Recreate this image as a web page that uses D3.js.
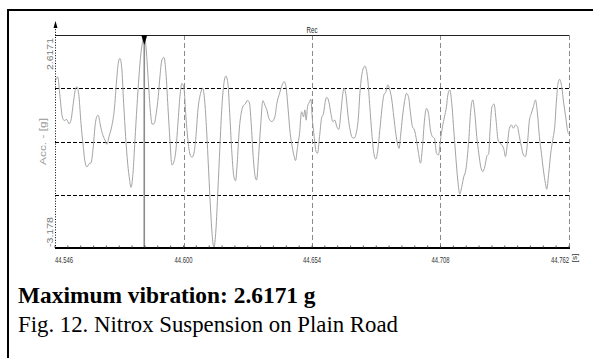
<!DOCTYPE html>
<html>
<head>
<meta charset="utf-8">
<script src="https://cdn.jsdelivr.net/npm/d3@7/dist/d3.min.js"></script>
<style>
  body { margin: 0; background: #fff; }
  svg { display: block; }
</style>
</head>
<body>
<svg id="draw-here"></svg>
<script>
// recording start (s) and sample times relative to it (ms)
const t0 = 44.546;
const timeMs = [
  0, 1.13, 2.10, 3.07, 3.91, 4.91, 5.88, 6.72, 7.69, 8.69, 9.24, 10.08, 10.92, 11.89, 12.60, 13.44, 14.28, 15.12, 16.09, 16.80,
  17.64, 18.19, 19.03, 19.87, 21.00, 21.84, 22.68, 23.81, 24.91, 25.91, 26.59, 27.30, 28.01, 28.85, 29.69, 30.53, 31.37, 31.92, 32.76, 33.60,
  34.44, 35.28, 36.12, 36.96, 37.51, 38.35, 39.19, 40.03, 40.87, 41.71, 42.55, 43.39, 43.97, 44.94, 45.78, 46.62, 47.46, 48.30, 49.14, 49.98,
  50.82, 51.66, 52.50, 53.34, 54.18, 55.02, 55.86, 56.70, 57.54, 58.38, 59.22, 60.06, 61.19, 62.03, 62.87, 63.71, 64.55, 65.39, 66.23, 66.78,
  67.62, 68.46, 69.30, 70.14, 70.98, 71.82, 72.66, 73.50, 74.34, 75.18, 75.89, 76.57, 77.41, 78.25, 79.09, 79.93, 80.77, 81.61, 82.45, 83.29,
  84.13, 84.71, 85.55, 86.39, 87.36, 88.20, 89.04, 89.88, 91.14, 92.40, 93.24, 94.37, 95.47, 96.31, 97.15, 97.99, 98.83, 99.67, 100.51, 101.09,
  101.93, 102.77, 103.61, 104.45, 105.00, 105.55, 106.13, 106.97, 107.52, 108.07, 108.91, 109.75, 110.33, 111.17, 112.01, 112.85, 113.69, 114.24, 115.08, 115.92,
  116.76, 117.60, 118.44, 119.28, 120.12, 120.96, 121.51, 122.35, 123.19, 124.03, 124.87, 125.71, 126.55, 127.39, 128.23, 129.07, 130.20, 131.46, 132.30, 133.14,
  133.98, 134.82, 135.66, 136.50, 137.34, 138.18, 139.02, 139.86, 140.70, 141.54, 142.38, 143.22, 144.06, 144.61, 145.19, 146.03, 146.87, 147.71, 148.55, 149.39,
  150.23, 151.07, 151.91, 152.75, 153.59, 154.43, 155.27, 156.11, 156.95, 157.79, 158.63, 159.47, 160.31, 161.15, 161.99, 162.83, 163.67, 164.51, 165.06, 165.90,
  166.74, 167.58, 168.42, 169.26, 170.10, 170.94, 171.78, 172.62, 173.88, 174.72, 175.56, 176.40, 177.24, 178.08, 178.92, 179.76, 180.60, 181.44, 182.28, 182.83,
  183.67, 184.51, 185.35, 186.19, 187.03, 187.87, 188.71, 189.29, 190.13, 190.97, 191.81, 192.65, 193.49, 194.33, 195.17, 196.01, 196.85, 197.69, 198.53, 199.37,
  200.21, 201.05, 201.89, 202.73, 203.57, 204.41, 205.25, 206.09, 206.64, 207.48, 208.32, 209.16, 210.00, 210.84, 211.39, 212.10, 212.94, 213.78, 214.62, 215.46,
  215.90
];
// acceleration (g)
const accG = [
  1.34, 1.48, 0.94, 0.39, 0.29, 0.32, 0.20, 0.30, 0.76, 1.17, 1.21, 0.94, 0.21, -0.42, -0.83, -0.97, -0.89, -0.86, -0.42, 0.12,
  0.41, 0.43, 0.17, -0.06, -0.24, -0.36, -0.15, 0.12, 0.58, 1.39, 1.85, 1.98, 1.75, 0.76, -0.15, -0.87, -1.33, -1.53, -1.15, -0.24,
  0.67, 1.48, 2.12, 2.48, 2.6171, 2.21, 1.39, 0.58, 0.19, 0.21, 0.49, 0.94, 1.39, 1.94, 2.01, 1.58, 0.67, -0.24, -0.92, -0.83,
  -0.51, 0.21, 0.94, 1.30, 1.17, 0.39, -0.24, -0.62, -0.71, -0.60, -0.15, 0.58, 1.03, 1.17, 0.85, 0.03, -1.06, -2.14, -2.96, -3.16,
  -2.69, -1.60, -0.42, 0.67, 1.30, 1.50, 1.30, 0.39, -0.60, -1.24, -1.35, -0.87, 0.03, 0.49, 0.69, 0.74, 0.83, 0.80, 0.21, -0.69,
  -1.24, -1.33, -0.69, 0.12, 0.83, 0.71, 0.58, 0.35, 0.26, 0.39, 0.76, 1.03, 1.26, 1.35, 1.17, 0.58, -0.06, -0.42, -0.69, -0.80,
  -0.42, -0.06, 0.53, 0.39, 0.58, 0.30, 0.67, 0.80, 0.87, 0.39, -0.15, -0.56, -0.60, -0.15, 0.35, 0.49, 0.85, 0.92, 0.80, 0.49,
  0.26, 0.30, 0.12, 0.05, 0.49, 1.03, 1.17, 0.94, 0.39, 0.03, -0.17, -0.19, -0.06, 0.30, 1.12, 1.58, 1.77, 1.39, 0.67, -0.06,
  -0.60, -0.76, -0.51, 0.03, 0.58, 0.98, 1.07, 1.26, 1.12, 0.85, 0.39, -0.06, -0.38, -0.47, -0.15, 0.39, 0.80, 1.03, 0.94, 0.49,
  0.12, 0.03, -0.24, -0.60, -0.87, -0.42, 0.30, 0.62, 0.49, 0.03, -0.15, -0.19, -0.60, -0.65, -0.24, 0.12, 0.39, 0.67, 0.98, 1.12,
  0.76, 0.03, -0.69, -1.33, -1.71, -1.51, -1.24, -1.06, -0.24, 0.58, 0.85, 0.49, -0.15, -0.60, -0.97, -1.10, -0.97, -0.69, -0.60, 0.03,
  0.67, 0.74, 0.30, -0.24, -0.33, -0.38, -0.51, -0.69, -0.33, 0.08, 0.17, 0.08, 0.17, 0.12, -0.15, -0.42, -0.65, -0.69, -0.33, 0.30,
  0.49, 0.67, 0.85, 0.49, -0.15, -0.60, -1.06, -1.42, -1.58, -1.15, -0.60, -0.24, 0.12, 0.94, 1.30, 1.41, 1.21, 0.76, 0.39, -0.01,
  -0.08
];
const xTicks = [44.546, 44.600, 44.654, 44.708, 44.762];
const yMax = 2.6171, yMin = -3.178;
const yLabels = ['2.6171', '-3.178'];
const yTitle = 'Acc. - [g]';
const xUnit = '[s]';
const traceName = 'Rec';
const captionBold = 'Maximum vibration: 2.6171 g';
const caption = 'Fig. 12. Nitrox Suspension on Plain Road';

const data = timeMs.map((ms, i) => ({ t: t0 + ms / 1000, v: accG[i] }));

const W = 593, H = 358;
const pLeft = 55, pRight = 569, pTop = 35, pBottom = 248;

const svg = d3.select('#draw-here').attr('width', W).attr('height', H);

// frame of the figure cell
svg.append('path')
  .attr('d', `M8,${H} L8,10 L${W},10`)
  .attr('fill', 'none').attr('stroke', '#000').attr('stroke-width', 2);

const x = d3.scaleLinear().domain([xTicks[0], xTicks[xTicks.length - 1]]).range([pLeft, pRight]);
const y = d3.scaleLinear().domain([yMin, yMax]).range([pBottom, pTop]);

const plot = svg.append('g');

// horizontal grid, 4 equal divisions
const yGrid = d3.range(1, 4).map(i => yMin + i * (yMax - yMin) / 4);
plot.selectAll('.hgrid').data(yGrid).enter().append('line')
  .attr('x1', pLeft).attr('x2', pRight)
  .attr('y1', d => Math.round(y(d)) + 0.5).attr('y2', d => Math.round(y(d)) + 0.5)
  .attr('stroke', '#000').attr('stroke-dasharray', '4,2');

// vertical grid on the major ticks
plot.selectAll('.vgrid').data(xTicks.slice(1)).enter().append('line')
  .attr('x1', d => Math.round(x(d)) + 0.5).attr('x2', d => Math.round(x(d)) + 0.5)
  .attr('y1', pTop).attr('y2', pBottom)
  .attr('stroke', '#8a8a8a').attr('stroke-dasharray', '5,3');

// top border
plot.append('line')
  .attr('x1', pLeft).attr('x2', pRight).attr('y1', pTop + 0.5).attr('y2', pTop + 0.5)
  .attr('stroke', '#222');

// signal
const line = d3.line().x(d => x(d.t)).y(d => y(d.v)).curve(d3.curveMonotoneX);
plot.append('path')
  .datum(data)
  .attr('d', line)
  .attr('fill', 'none')
  .attr('stroke', '#a3a3a3')
  .attr('stroke-width', 1);

// cursor at maximum
const peak = data[d3.maxIndex(data, d => d.v)];
const cx = x(peak.t);
plot.append('line')
  .attr('x1', cx).attr('x2', cx).attr('y1', pTop).attr('y2', pBottom)
  .attr('stroke', '#8c8c8c').attr('stroke-width', 1.6);
plot.append('path')
  .attr('d', `M${cx - 3},${pTop} L${cx + 3},${pTop} L${cx},${pTop + 10} Z`)
  .attr('fill', '#000');

// bottom axis
plot.append('line')
  .attr('x1', pLeft).attr('x2', pRight + 1).attr('y1', pBottom).attr('y2', pBottom)
  .attr('stroke', '#000').attr('stroke-width', 2);
const minor = d3.range(0, (xTicks.length - 1) * 10 + 1).map(i => xTicks[0] + i * (xTicks[1] - xTicks[0]) / 10);
plot.selectAll('.minor').data(minor).enter().append('line')
  .attr('x1', d => x(d)).attr('x2', d => x(d))
  .attr('y1', pBottom - 2.5).attr('y2', pBottom)
  .attr('stroke', '#333').attr('stroke-width', 0.8);

plot.selectAll('.xlab').data(xTicks).enter().append('text')
  .attr('x', d => x(d))
  .attr('y', 262.5)
  .attr('text-anchor', (d, i) => i === 0 ? 'start' : i === xTicks.length - 1 ? 'end' : 'middle')
  .attr('textLength', 18).attr('lengthAdjust', 'spacingAndGlyphs')
  .style('font-family', 'Liberation Sans Narrow, Arial Narrow, sans-serif')
  .style('font-size', '9.5px').attr('fill', '#333')
  .text(d => d3.format('.3f')(d));

plot.append('text')
  .attr('transform', `translate(577,258) rotate(-90)`)
  .attr('text-anchor', 'middle')
  .style('font-family', 'Liberation Sans Narrow, Arial Narrow, sans-serif')
  .style('font-size', '8px').attr('fill', '#333')
  .text(xUnit);

// left axis with arrow
plot.append('line')
  .attr('x1', pLeft + 0.5).attr('x2', pLeft + 0.5).attr('y1', 24).attr('y2', pBottom)
  .attr('stroke', '#000').attr('stroke-dasharray', '1,1.6');
plot.append('path')
  .attr('d', `M${pLeft + 0.5},21 L${pLeft + 2.5},28 L${pLeft - 1.5},28 Z`)
  .attr('fill', '#000');

plot.append('text')
  .attr('transform', `translate(53,38) rotate(-90)`)
  .attr('text-anchor', 'end')
  .attr('textLength', 32).attr('lengthAdjust', 'spacingAndGlyphs')
  .style('font-family', 'Liberation Sans, Arial, sans-serif')
  .style('font-size', '8.5px').attr('fill', '#777')
  .text(yLabels[0]);
plot.append('text')
  .attr('transform', `translate(53,247) rotate(-90)`)
  .attr('text-anchor', 'start')
  .attr('textLength', 30).attr('lengthAdjust', 'spacingAndGlyphs')
  .style('font-family', 'Liberation Sans, Arial, sans-serif')
  .style('font-size', '8.5px').attr('fill', '#777')
  .text(yLabels[1]);
plot.append('text')
  .attr('transform', `translate(46,141.5) rotate(-90)`)
  .attr('text-anchor', 'middle')
  .attr('textLength', 47).attr('lengthAdjust', 'spacingAndGlyphs')
  .style('font-family', 'Liberation Sans, Arial, sans-serif')
  .style('font-size', '8.5px').attr('fill', '#999')
  .text(yTitle);

plot.append('text')
  .attr('x', x(xTicks[2])).attr('y', 33)
  .attr('text-anchor', 'middle')
  .attr('textLength', 11).attr('lengthAdjust', 'spacingAndGlyphs')
  .style('font-family', 'Liberation Sans Narrow, Arial Narrow, sans-serif')
  .style('font-size', '8.5px').attr('fill', '#222')
  .text(traceName);

// caption
svg.append('text')
  .attr('x', 18).attr('y', 303)
  .style('font-family', 'Liberation Serif, Times New Roman, serif')
  .style('font-size', '23.4px').style('font-weight', 'bold').attr('fill', '#000')
  .text(captionBold);
svg.append('text')
  .attr('x', 18).attr('y', 331.5)
  .style('font-family', 'Liberation Serif, Times New Roman, serif')
  .style('font-size', '22.8px').attr('fill', '#000')
  .text(caption);
</script>
</body>
</html>
